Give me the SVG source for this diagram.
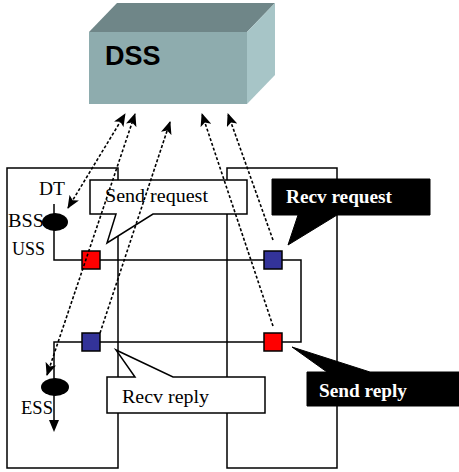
<svg xmlns="http://www.w3.org/2000/svg" width="459" height="472" viewBox="0 0 459 472">
<defs>
<marker id="ah" viewBox="0 0 13 11" refX="12" refY="5.5" markerWidth="13" markerHeight="11" markerUnits="userSpaceOnUse" orient="auto-start-reverse">
<path d="M0,0 L13,5.5 L0,11 L3,5.5 Z" fill="#000"/>
</marker>
<style>
.frame{fill:none;stroke:#000;stroke-width:1.5}
.dash{fill:none;stroke:#000;stroke-width:1.6;stroke-dasharray:3 2}
.sq{stroke:#000;stroke-width:1.5}
.lbl{font-family:"Liberation Serif","Times New Roman",serif;font-size:18px;fill:#000}
.lblw{font-family:"Liberation Serif","Times New Roman",serif;font-size:18px;font-weight:bold;fill:#fff}
.white{fill:#fff;stroke:#000;stroke-width:1.5}
.black{fill:#000;stroke:#000;stroke-width:1}
</style>
</defs>
<rect width="459" height="472" fill="#fff"/>

<g id="DSS">
<polygon points="89,32 117,3 275,3 247,32" fill="#6f8688"/>
<polygon points="247,32 275,3 275,75 247,104" fill="#a7c5c7"/>
<rect x="89" y="32" width="158" height="72" fill="#8eacae"/>
<text x="105" y="65" font-family="Liberation Sans,Arial,sans-serif" font-weight="bold" font-size="27" fill="#000">DSS</text>
</g>

<g id="frames">
<rect class="frame" x="7" y="168" width="111" height="300"/>
<rect class="frame" x="227" y="168" width="110" height="300"/>
<polyline class="frame" points="54,204 54,260 301,260 301,342 54,342 54,420"/>
</g>

<g id="BSS">
<ellipse cx="55" cy="222" rx="13" ry="9" fill="#000"/>
<text class="lbl" x="39" y="195" textLength="26" lengthAdjust="spacingAndGlyphs">DT</text>
<text class="lbl" x="8" y="227" textLength="36" lengthAdjust="spacingAndGlyphs">BSS</text>
<text class="lbl" x="12" y="255" textLength="33" lengthAdjust="spacingAndGlyphs">USS</text>
</g>

<g id="ESS">
<ellipse cx="55" cy="387" rx="14" ry="9" fill="#000"/>
<path d="M49,420 L59,420 L54,432 Z" fill="#000"/>
<text class="lbl" x="21" y="414" textLength="32" lengthAdjust="spacingAndGlyphs">ESS</text>
</g>

<g id="squares">
<rect class="sq" x="82" y="251" width="18" height="18" fill="#f00"/>
<rect class="sq" x="264" y="251" width="18" height="18" fill="#333399"/>
<rect class="sq" x="82" y="333" width="18" height="18" fill="#333399"/>
<rect class="sq" x="264" y="333" width="18" height="18" fill="#f00"/>
</g>

<g id="send-request">
<path class="white" d="M90,180 H247 V214 H153 L107,243 L116,214 H90 Z"/>
<text class="lbl" x="105" y="202" textLength="103" lengthAdjust="spacingAndGlyphs">Send request</text>
</g>

<g id="recv-request">
<path class="black" d="M272,179 H430 V215 H337 L288,245 L298,215 H272 Z"/>
<text class="lblw" x="286" y="203" textLength="106" lengthAdjust="spacingAndGlyphs">Recv request</text>
</g>

<g id="recv-reply">
<path class="white" d="M107,377 H135 L116,350 L173,377 H265 V413 H107 Z"/>
<text class="lbl" x="122" y="403" textLength="87" lengthAdjust="spacingAndGlyphs">Recv reply</text>
</g>

<g id="send-reply">
<path class="black" d="M307,372 H327 L292,347 L370,372 H459 V406 H307 Z"/>
<text class="lblw" x="319" y="397" textLength="88" lengthAdjust="spacingAndGlyphs">Send reply</text>
</g>

<g id="connectors">
<line class="dash" x1="68" y1="208" x2="125" y2="114" marker-start="url(#ah)" marker-end="url(#ah)"/>
<line class="dash" x1="47" y1="375" x2="135" y2="114" marker-start="url(#ah)" marker-end="url(#ah)"/>
<line class="dash" x1="100" y1="333" x2="170" y2="122" marker-end="url(#ah)"/>
<line class="dash" x1="273" y1="326" x2="202" y2="114" marker-end="url(#ah)"/>
<line class="dash" x1="273" y1="240" x2="228" y2="114" marker-end="url(#ah)"/>
</g>
</svg>
